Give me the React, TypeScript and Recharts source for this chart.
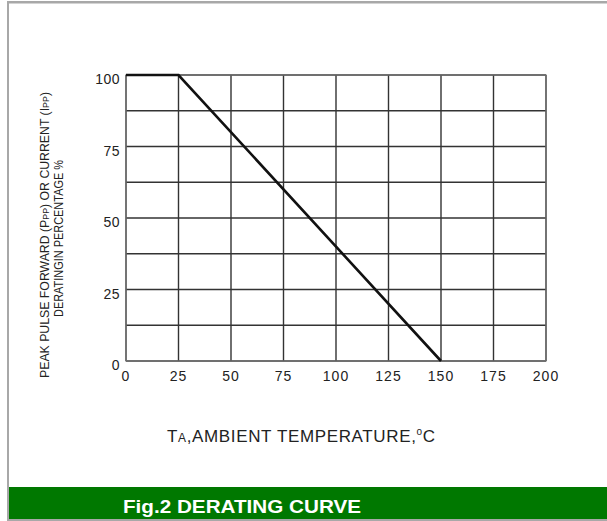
import React from "react";
import { LineChart, Line, XAxis, YAxis, CartesianGrid, Customized } from "recharts";

const temperatures = [0, 25, 150];
const deratingPct = [100, 100, 0];
const xTicks = [0, 25, 50, 75, 100, 125, 150, 175, 200];
const yGridTicks = [0, 12.5, 25, 37.5, 50, 62.5, 75, 87.5, 100];
const yLabelTicks = [0, 25, 50, 75, 100];

const data = temperatures.map((t, i) => ({ t, pct: deratingPct[i] }));

const FONT = "'Liberation Sans', Arial, sans-serif";

const XTick = (props: any) => {
  const { x, payload } = props;
  return (
    <text x={x} y={381} textAnchor="middle" fontFamily={FONT} fontSize={14} fill="#222" letterSpacing={1}>
      {payload.value}
    </text>
  );
};

const YTick = (props: any) => {
  const { y, payload } = props;
  if (!yLabelTicks.includes(payload.value)) return <g />;
  return (
    <text x={120} y={y + 9} textAnchor="end" fontFamily={FONT} fontSize={14} fill="#222" letterSpacing={0.5}>
      {payload.value}
    </text>
  );
};

const Decorations = () => (
  <g>
    <rect x={7} y={1} width={600} height={2.5} fill="#a8a8a8" />
    <rect x={7} y={1} width={2} height={520} fill="#a8a8a8" />
    <rect x={7} y={519} width={600} height={2} fill="#a8a8a8" />
    <rect x={9} y={487} width={598} height={32} fill="#007800" />
    <text x={123} y={513} fontFamily={FONT} fontWeight="bold" fontSize={18} fill="#ffffff" textLength={238} lengthAdjust="spacingAndGlyphs">
      Fig.2 DERATING CURVE
    </text>
    <text x={167} y={442} fontFamily={FONT} fontSize={17} fill="#222" textLength={268} lengthAdjust="spacing">
      T<tspan fontSize={12}>A</tspan>,AMBIENT TEMPERATURE,<tspan fontSize={10} dy={-7}>o</tspan><tspan dy={7}>C</tspan>
    </text>
    <text transform="translate(49,235) rotate(-90)" textAnchor="middle" fontFamily={FONT} fontSize={12.5} fill="#222" textLength={286} lengthAdjust="spacingAndGlyphs">
      PEAK PULSE FORWARD (P<tspan fontSize={9}>PP</tspan>) OR CURRENT (I<tspan fontSize={9}>PP</tspan>)
    </text>
    <text transform="translate(63,238.5) rotate(-90)" textAnchor="middle" fontFamily={FONT} fontSize={12.5} fill="#222" textLength={157} lengthAdjust="spacingAndGlyphs">
      DERATINGIN PERCENTAGE %
    </text>
    <rect x={126} y={75} width={420} height={286} fill="none" stroke="#777" strokeWidth={1.2} />
  </g>
);

export default function App() {
  return (
    <div style={{ position: "absolute", left: 0, top: 0, width: 607, height: 521, background: "#fff" }}>
      <LineChart width={607} height={521} data={data} margin={{ top: 75, right: 61, bottom: 130, left: 66 }}>
        <CartesianGrid stroke="#333" strokeWidth={1.4} />
        <XAxis
          dataKey="t"
          type="number"
          domain={[0, 200]}
          ticks={xTicks}
          tick={<XTick />}
          tickLine={false}
          axisLine={false}
          height={30}
          interval={0}
        />
        <YAxis
          type="number"
          domain={[0, 100]}
          ticks={yGridTicks}
          tick={<YTick />}
          tickLine={false}
          axisLine={false}
          width={60}
          interval={0}
        />
        <Customized component={Decorations} />
        <Line
          dataKey="pct"
          stroke="#111"
          strokeWidth={2.6}
          dot={false}
          isAnimationActive={false}
          type="linear"
        />
      </LineChart>
    </div>
  );
}
